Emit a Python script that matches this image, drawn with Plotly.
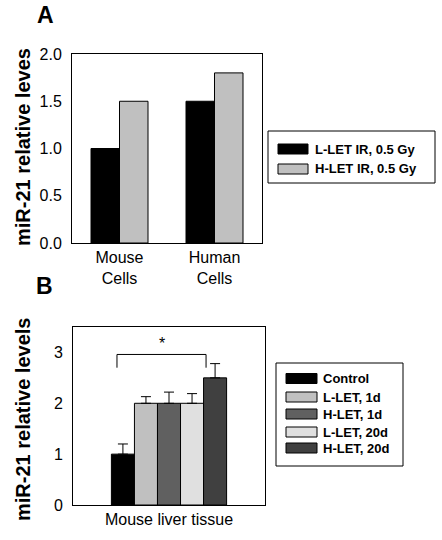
import plotly.graph_objects as go

W, H = 442, 540
FONT = "Liberation Sans, Arial, sans-serif"

# ---------------- data ----------------
# Panel A
a_categories = ["Mouse<br>Cells", "Human<br>Cells"]
a_series = ["L-LET IR, 0.5 Gy", "H-LET IR, 0.5 Gy"]
a_values = {
    "L-LET IR, 0.5 Gy": [1.0, 1.5],
    "H-LET IR, 0.5 Gy": [1.5, 1.8],
}
a_colors = ["#000000", "#c0c0c0"]
a_yticks = [0.0, 0.5, 1.0, 1.5, 2.0]
a_yticklabels = ["0.0", "0.5", "1.0", "1.5", "2.0"]
a_ytitle = "miR-21 relative leves"

# Panel B
b_categories = ["Mouse liver tissue"]
b_series = ["Control", "L-LET, 1d", "H-LET, 1d", "L-LET, 20d", "H-LET, 20d"]
b_values = [1.0, 2.0, 2.0, 2.0, 2.5]
b_errors = [0.20, 0.13, 0.22, 0.19, 0.28]
b_colors = ["#000000", "#c0c0c0", "#606060", "#e0e0e0", "#404040"]
b_yticks = [0, 1, 2, 3]
b_yticklabels = ["0", "1", "2", "3"]
b_ytitle = "miR-21 relative levels"

# significance bracket (data units on panel B axes)
sig_x = (-0.271, 0.193)
sig_y_top = 2.96
sig_y_bottom = 2.70
sig_label = "*"


def px(x):
    return x / W


def py(y):
    return 1 - y / H


fig = go.Figure()

# ---- Panel A bars ----
for name, color in zip(a_series, a_colors):
    fig.add_trace(go.Bar(
        x=a_categories, y=a_values[name], name=name,
        marker=dict(color=color, line=dict(color="black", width=1)),
        xaxis="x", yaxis="y", showlegend=False,
    ))

# ---- Panel B bars ----
for name, val, err, color in zip(b_series, b_values, b_errors, b_colors):
    fig.add_trace(go.Bar(
        x=b_categories, y=[val], name=name,
        marker=dict(color=color, line=dict(color="black", width=1)),
        error_y=dict(type="data", array=[err], arrayminus=[0], symmetric=False,
                     color="black", thickness=1, width=5),
        xaxis="x2", yaxis="y2", showlegend=False,
    ))

axis_common = dict(showline=True, linecolor="black", linewidth=1, mirror=True,
                   showgrid=False, zeroline=False, ticks="", automargin=False,
                   tickfont=dict(family=FONT, size=16, color="black"))

fig.update_layout(
    width=W, height=H,
    margin=dict(l=0, r=0, t=0, b=0),
    paper_bgcolor="white", plot_bgcolor="white",
    barmode="group", bargap=0.4, bargroupgap=0,
    font=dict(family=FONT, color="black"),
    xaxis=dict(domain=[px(72), px(262)], anchor="y", range=[-0.5, 1.5],
               **axis_common),
    yaxis=dict(domain=[py(243), py(54)], anchor="x", range=[0, 2.0],
               tickvals=a_yticks, ticktext=a_yticklabels, ticklabelstandoff=6,
               **axis_common),
    xaxis2=dict(domain=[px(73), px(265)], anchor="y2", range=[-0.5, 0.5],
                **axis_common),
    yaxis2=dict(domain=[py(505), py(327)], anchor="x2", range=[0, 3.5],
                tickvals=b_yticks, ticktext=b_yticklabels, ticklabelstandoff=6,
                **axis_common),
)

shapes = []
annotations = []

# axis titles
annotations.append(dict(xref="paper", yref="paper", x=px(23), y=py(147),
                        xanchor="center", yanchor="middle", textangle=-90,
                        text=f"<b>{a_ytitle}</b>", showarrow=False,
                        font=dict(family=FONT, size=20, color="black")))
annotations.append(dict(xref="paper", yref="paper", x=px(23), y=py(420),
                        xanchor="center", yanchor="middle", textangle=-90,
                        text=f"<b>{b_ytitle}</b>", showarrow=False,
                        font=dict(family=FONT, size=20, color="black")))

# significance bracket
shapes.append(dict(type="path", xref="x2", yref="y2",
                   path=f"M {sig_x[0]},{sig_y_bottom} L {sig_x[0]},{sig_y_top} "
                        f"L {sig_x[1]},{sig_y_top} L {sig_x[1]},{sig_y_bottom}",
                   line=dict(color="black", width=1)))
annotations.append(dict(xref="x2", yref="y2", x=(sig_x[0] + sig_x[1]) / 2,
                        y=sig_y_top, text=sig_label, showarrow=False,
                        xanchor="center", yanchor="bottom",
                        font=dict(family=FONT, size=16)))

# panel letters
annotations.append(dict(xref="paper", yref="paper", x=px(45), y=py(15), text="<b>A</b>",
                        xanchor="center", yanchor="middle",
                        showarrow=False, font=dict(family=FONT, size=23)))
annotations.append(dict(xref="paper", yref="paper", x=px(44), y=py(286), text="<b>B</b>",
                        xanchor="center", yanchor="middle",
                        showarrow=False, font=dict(family=FONT, size=23)))


def draw_legend(names, colors, box, sw_x, rows, text_x):
    x0, y0, x1, y1 = box
    shapes.append(dict(type="rect", xref="paper", yref="paper",
                       x0=px(x0), x1=px(x1), y0=py(y1), y1=py(y0),
                       line=dict(color="black", width=1), fillcolor="white"))
    for name, color, yc in zip(names, colors, rows):
        shapes.append(dict(type="rect", xref="paper", yref="paper",
                           x0=px(sw_x[0]), x1=px(sw_x[1]),
                           y0=py(yc + 5), y1=py(yc - 5),
                           line=dict(color="black", width=1), fillcolor=color))
        annotations.append(dict(xref="paper", yref="paper", x=px(text_x), y=py(yc),
                                xanchor="left", yanchor="middle", showarrow=False,
                                text=f"<b>{name}</b>",
                                font=dict(family=FONT, size=13, color="black")))


draw_legend(a_series, a_colors, (268, 131, 435, 183), (278, 308), [149, 169], 313)
draw_legend(b_series, b_colors, (276, 363, 403, 466), (286, 317),
            [378.5, 397, 414, 432, 448], 321)

fig.update_layout(shapes=shapes, annotations=annotations)

fig.write_html("out.html",
               config={"displayModeBar": False},
               post_script="document.body.style.margin='0px';"
                           "document.body.style.overflow='hidden';")
